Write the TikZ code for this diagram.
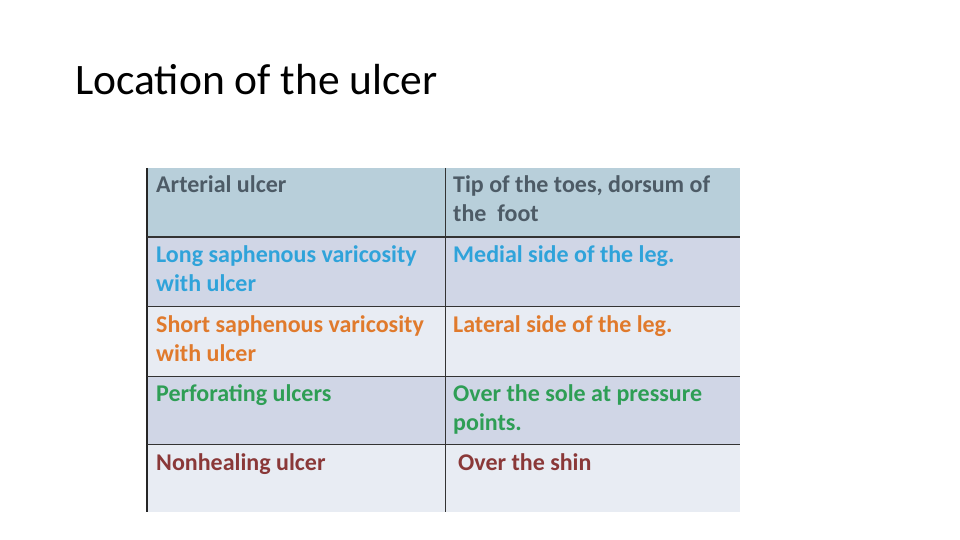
\documentclass[tikz,border=0pt]{standalone}
\usepackage{fontspec}
\setmainfont{Carlito}
\usetikzlibrary{positioning}
\definecolor{hdbg}{HTML}{B8CFDA}
\definecolor{rowa}{HTML}{D0D6E6}
\definecolor{rowb}{HTML}{E8ECF3}
\definecolor{txgray}{HTML}{4D5B66}
\definecolor{txblue}{HTML}{2FA3DA}
\definecolor{txorange}{HTML}{E07A2C}
\definecolor{txgreen}{HTML}{2E9E55}
\definecolor{txred}{HTML}{8A3838}
\tikzset{
  cell/.style={anchor=north west, align=left, inner sep=0pt, font=\bfseries\fontsize{24}{29}\selectfont},
}
\begin{document}
\begin{tikzpicture}[x=1pt,y=-1pt]
    \useasboundingbox (0,0) rectangle (960,540);
    %% title
    \node[anchor=base west, inner sep=0pt, font=\fontsize{43.5}{50}\selectfont] (title) at (75,95) {Location of the ulcer};
    %% row backgrounds
    \fill[hdbg] (147,168) rectangle (740,237);
    \fill[rowa] (147,237) rectangle (740,306);
    \fill[rowb] (147,306) rectangle (740,376);
    \fill[rowa] (147,376) rectangle (740,444);
    \fill[rowb] (147,444) rectangle (740,512);
    %% lines
    \draw[line width=2.5pt, black!85] (147,168) -- (147,512);
    \draw[line width=1pt, black!80] (445,168) -- (445,512);
    \draw[line width=2pt, black!80] (147,237) -- (740,237);
    \foreach \yy in {306,376,444} \draw[line width=1pt, black!80] (147,\yy) -- (740,\yy);
    %% texts
    \node[cell, text=txgray] (c1a) at (156,175) {Arterial ulcer};
    \node[cell, text=txgray] (c1b) at (453,175) {Tip of the toes, dorsum of\\the\ \ foot};
    \node[cell, text=txblue] (c2a) at (156,245) {Long saphenous varicosity\\with ulcer};
    \node[cell, text=txblue] (c2b) at (453,245) {Medial side of the leg.};
    \node[cell, text=txorange] (c3a) at (156,315) {Short saphenous varicosity\\with ulcer};
    \node[cell, text=txorange] (c3b) at (453,315) {Lateral side of the leg.};
    \node[cell, text=txgreen] (c4a) at (156,384) {Perforating ulcers};
    \node[cell, text=txgreen] (c4b) at (453,384) {Over the sole at pressure\\points.};
    \node[cell, text=txred] (c5a) at (156,453) {Nonhealing ulcer};
    \node[cell, text=txred] (c5b) at (458,453) {Over the shin};
\end{tikzpicture}
\end{document}
